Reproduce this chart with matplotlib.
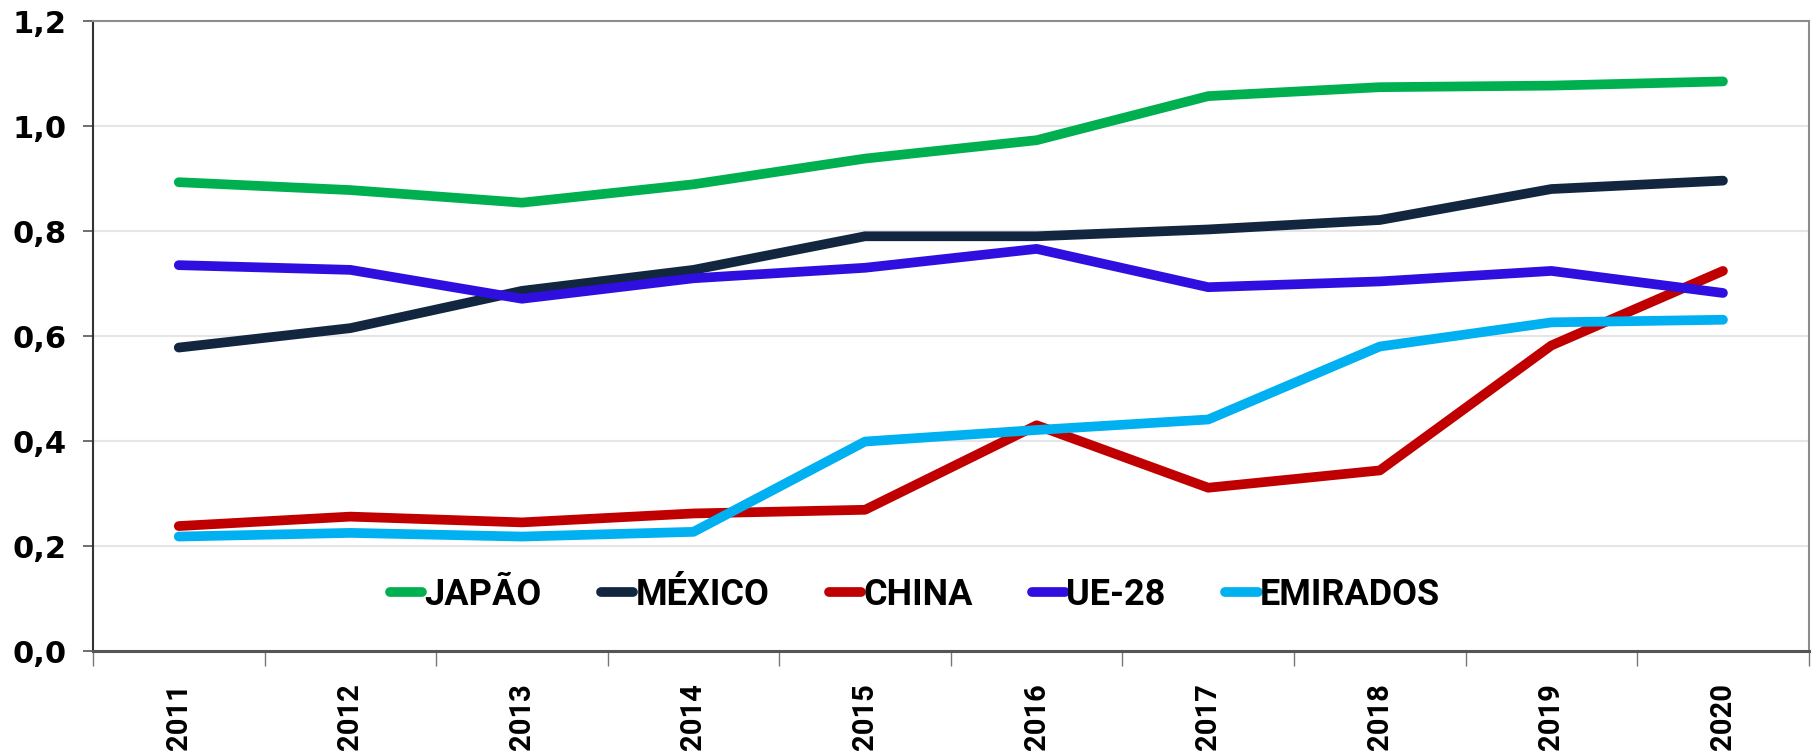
import matplotlib
matplotlib.use("Agg")
import matplotlib.pyplot as plt
from matplotlib.ticker import FixedLocator, FuncFormatter
import numpy as np

years = ["2011", "2012", "2013", "2014", "2015", "2016", "2017", "2018", "2019", "2020"]
japao = [0.893, 0.878, 0.854, 0.889, 0.938, 0.973, 1.057, 1.074, 1.077, 1.085]
mexico = [0.578, 0.615, 0.686, 0.726, 0.790, 0.790, 0.803, 0.821, 0.880, 0.896]
china = [0.238, 0.256, 0.245, 0.262, 0.269, 0.430, 0.311, 0.344, 0.582, 0.724]
ue28 = [0.735, 0.726, 0.671, 0.710, 0.730, 0.766, 0.693, 0.704, 0.724, 0.682]
emirados = [0.218, 0.225, 0.218, 0.227, 0.399, 0.421, 0.441, 0.580, 0.626, 0.631]

series = [
    ("JAPÃO", japao, "#00B050"),
    ("MÉXICO", mexico, "#12263F"),
    ("CHINA", china, "#C00000"),
    ("UE-28", ue28, "#2E0FE0"),
    ("EMIRADOS", emirados, "#00B0F0"),
]

font = ["Roboto", "DejaVu Sans"]

fig = plt.figure(figsize=(18.16, 7.54), dpi=100)
ax = fig.add_axes([0.0512, 0.1366, 0.9448, 0.8355])

x = np.arange(len(years))
for name, vals, col in series:
    ax.plot(x, vals, color=col, lw=7, solid_capstyle="round",
            solid_joinstyle="round", label=name, zorder=3)

ax.set_xlim(-0.5, len(years) - 0.5)
ax.set_ylim(0, 1.2)
ax.set_yticks(np.arange(0, 1.21, 0.2))
ax.yaxis.set_major_formatter(FuncFormatter(lambda v, p: f"{v:.1f}".replace(".", ",")))
ax.grid(axis="y", color="#E6E6E6", lw=1.5, zorder=0)
ax.set_axisbelow(True)

ax.set_xticks(x)
ax.set_xticklabels(years, rotation=90, fontfamily=font, fontweight="bold", fontsize=21)
ax.xaxis.set_minor_locator(FixedLocator(np.arange(-0.5, len(years), 1.0)))
ax.tick_params(axis="x", which="major", length=0, pad=23)
ax.tick_params(axis="x", which="minor", length=11, width=1, color="#777777")
ax.tick_params(axis="y", length=7, width=1.2, color="#555555", pad=12)
for lab in ax.get_yticklabels():
    lab.set_fontfamily("DejaVu Sans")
    lab.set_fontweight("bold")
    lab.set_fontsize(22)

ax.spines["left"].set_color("#333333")
ax.spines["left"].set_linewidth(1.5)
ax.spines["bottom"].set_color("#555555")
ax.spines["bottom"].set_linewidth(2.2)
ax.spines["top"].set_color("#8C8C8C")
ax.spines["top"].set_linewidth(1.5)
ax.spines["right"].set_color("#8C8C8C")
ax.spines["right"].set_linewidth(1.5)

leg = ax.legend(loc="center", bbox_to_anchor=(0.479, 0.089), ncol=5, frameon=False,
                handlelength=0.9, handletextpad=0.05, columnspacing=1.65,
                prop={"family": font, "weight": "bold", "size": 26})

fig.savefig("out.png", dpi=100)
